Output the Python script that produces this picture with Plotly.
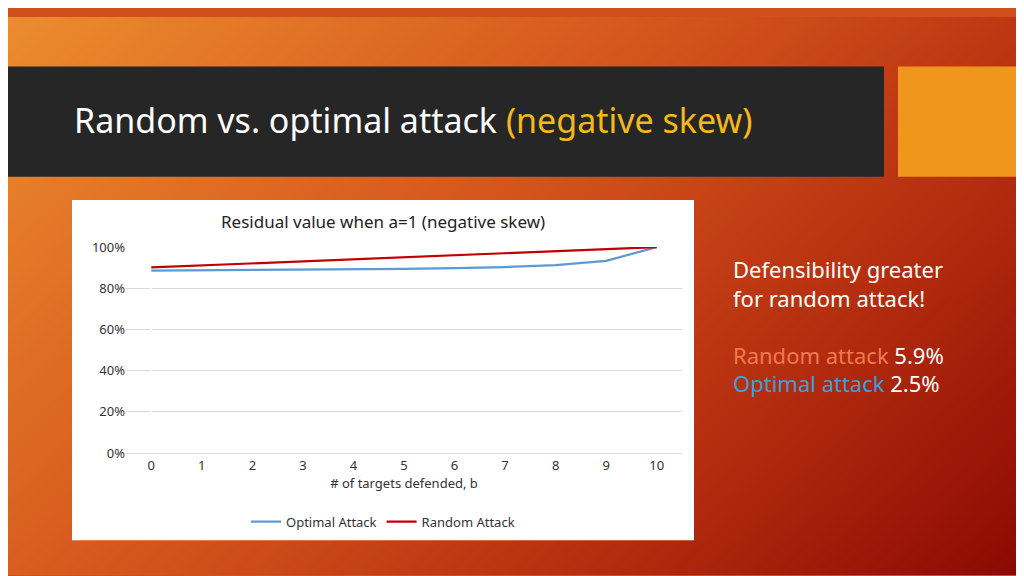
import base64
import struct
import zlib
import numpy as np
import plotly.graph_objects as go

b = list(range(11))
optimal_attack = [0.886, 0.887, 0.888, 0.889, 0.891, 0.894, 0.898, 0.903, 0.912, 0.933, 1.0]
random_attack = [0.901, 0.911, 0.921, 0.931, 0.941, 0.951, 0.961, 0.971, 0.981, 0.991, 1.0]
y_ticks = [0, 0.2, 0.4, 0.6, 0.8, 1.0]

W, H = 1024, 576


def gradient_png(w, h):
    # diagonal orange -> dark red background, written as a tiny png
    stops = [(0, (236, 140, 46)), (0.45, (212, 82, 28)), (0.75, (178, 42, 14)), (1, (140, 10, 4))]
    rows = b""
    for j in range(h):
        row = b"\x00"
        for i in range(w):
            t = 0.65 * i / (w - 1) + 0.35 * j / (h - 1)
            for k in range(len(stops) - 1):
                if stops[k][0] <= t <= stops[k + 1][0]:
                    f = (t - stops[k][0]) / (stops[k + 1][0] - stops[k][0])
                    c = [int(a + (bb - a) * f) for a, bb in zip(stops[k][1], stops[k + 1][1])]
                    break
            row += bytes(c)
        rows += row

    def chunk(tag, data):
        return struct.pack(">I", len(data)) + tag + data + struct.pack(">I", zlib.crc32(tag + data) & 0xffffffff)

    png = b"\x89PNG\r\n\x1a\n" + chunk(b"IHDR", struct.pack(">IIBBBBB", w, h, 8, 2, 0, 0, 0))
    png += chunk(b"IDAT", zlib.compress(rows)) + chunk(b"IEND", b"")
    return "data:image/png;base64," + base64.b64encode(png).decode()


fig = go.Figure()
fig.add_trace(go.Scatter(x=b, y=optimal_attack, mode="lines", name="Optimal Attack",
                         line=dict(color="#5b9bd5", width=2.2)))
fig.add_trace(go.Scatter(x=b, y=random_attack, mode="lines", name="Random Attack",
                         line=dict(color="#c00000", width=2.2)))


def py(y0, y1):
    return 1 - y1 / H, 1 - y0 / H


shapes = [
    dict(type="rect", xref="paper", yref="paper", x0=0, x1=876 / W, y0=py(51, 165)[0], y1=py(51, 165)[1],
         fillcolor="#262626", line_width=0, layer="below"),
    dict(type="rect", xref="paper", yref="paper", x0=890 / W, x1=1, y0=py(51, 165)[0], y1=py(51, 165)[1],
         fillcolor="#f0961c", line_width=0, layer="below"),
    dict(type="rect", xref="paper", yref="paper", x0=64 / W, x1=686 / W, y0=py(189, 540)[0], y1=py(189, 540)[1],
         fillcolor="white", line_width=0, layer="below"),
]

annotations = [
    dict(text="Random vs. optimal attack <span style='color:#f5b81c'>(negative skew)</span>",
         x=64 / W, y=1 - 106 / H, xref="paper", yref="paper", xanchor="left", yanchor="middle",
         showarrow=False, font=dict(size=34, color="white", family="Noto Sans")),
    dict(text="Residual value when a=1 (negative skew)", x=375 / W, y=1 - 211 / H,
         xref="paper", yref="paper", showarrow=False, font=dict(size=17, color="#222")),
    dict(text="Defensibility greater<br>for random attack!<br><br>"
              "<span style='color:#f07a50'>Random attack</span> 5.9%<br>"
              "<span style='color:#3aa0dc'>Optimal attack</span> 2.5%",
         x=723 / W, y=1 - 243 / H, xref="paper", yref="paper", xanchor="left", yanchor="top",
         align="left", showarrow=False, font=dict(size=22, color="white", family="Noto Sans")),
]

fig.update_layout(
    width=W, height=H, margin=dict(l=0, r=0, t=0, b=0),
    paper_bgcolor="#d0501c", plot_bgcolor="rgba(0,0,0,0)",
    font=dict(family="Noto Sans", size=13, color="#333"),
    shapes=shapes, annotations=annotations,
    images=[dict(source=gradient_png(128, 72), xref="paper", yref="paper", x=0, y=1,
                 sizex=1, sizey=1, sizing="stretch", layer="below")],
    xaxis=dict(domain=[118 / W, 674 / W], range=[-0.5, 10.5], tickvals=b, showgrid=False,
               showline=True, linecolor="#d9d9d9", ticks="",
               title=dict(text="# of targets defended, b", font=dict(size=13), standoff=6)),
    yaxis=dict(domain=[1 - 450 / H, 1 - 237.5 / H], range=[0, 1.0], tickvals=y_ticks,
               tickformat=".0%", gridcolor="#d9d9d9", zeroline=False, ticks=""),
    legend=dict(orientation="h", x=375 / W, xanchor="center", y=1 - 521 / H, yanchor="middle",
                bgcolor="rgba(0,0,0,0)", font=dict(size=13)),
)

fig.write_html("out.html")
